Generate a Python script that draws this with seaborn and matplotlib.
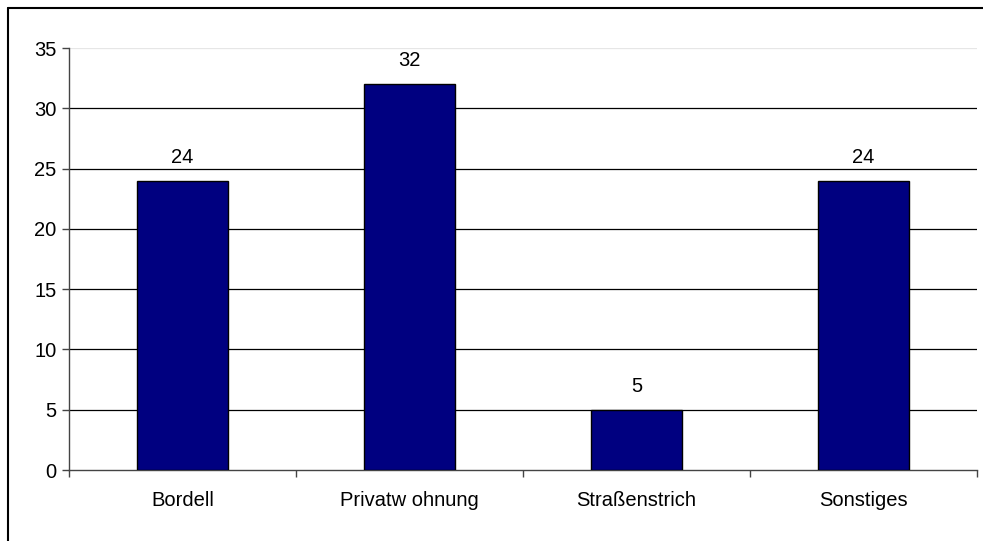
import matplotlib
matplotlib.use("Agg")
import matplotlib.pyplot as plt
import seaborn as sns
import pandas as pd
from matplotlib.lines import Line2D

# daten
kategorien = ['Bordell', 'Privatw ohnung', 'Straßenstrich', 'Sonstiges']
werte = [24, 32, 5, 24]
y_ticks = [0, 5, 10, 15, 20, 25, 30, 35]

df = pd.DataFrame({'ort': kategorien, 'anzahl': werte})

sns.set_style('white')
plt.rcParams['font.family'] = ['Liberation Sans', 'DejaVu Sans']
plt.rcParams['text.color'] = 'black'
plt.rcParams['xtick.color'] = 'black'
plt.rcParams['ytick.color'] = 'black'

fig = plt.figure(figsize=(9.83, 5.41), dpi=100)
ax = fig.add_axes([69 / 983, 1 - 470 / 541, (977 - 69) / 983, (470 - 48) / 541])

sns.barplot(data=df, x='ort', y='anzahl', color='#000080', saturation=1,
            width=0.4, edgecolor='black', linewidth=1, ax=ax, zorder=3)

ax.set_ylim(0, 35)
ax.set_xlim(-0.5, 3.5)
ax.set_yticks(y_ticks)
ax.set_xlabel('')
ax.set_ylabel('')

# gitternetz
for t in y_ticks[1:]:
    farbe = '#e6e6e6' if t == 35 else 'black'
    ax.axhline(t, color=farbe, linewidth=0.9, zorder=1)

for s in ['top', 'right']:
    ax.spines[s].set_visible(False)
for s in ['left', 'bottom']:
    ax.spines[s].set_color('#444444')
    ax.spines[s].set_linewidth(1)

fs = 14.5
ax.tick_params(axis='y', direction='out', length=5, width=1, color='#444444',
               labelcolor='black', labelsize=fs, pad=4, left=True)
ax.tick_params(axis='x', which='major', length=0, labelsize=fs, pad=15,
               labelcolor='black')
ax.set_xticks([-0.5, 0.5, 1.5, 2.5, 3.5], minor=True)
ax.tick_params(axis='x', which='minor', direction='out', length=5, width=1,
               color='#444444', bottom=True)

# datenbeschriftung
for i, v in enumerate(werte):
    ax.annotate(str(v), (i, v), xytext=(0, 10), textcoords='offset points',
                ha='center', va='bottom', fontsize=fs, color='black')

# rahmen
fig.add_artist(Line2D([8 / 983, 1.0], [1 - 8 / 541, 1 - 8 / 541],
                      transform=fig.transFigure, color='black', linewidth=1.5))
fig.add_artist(Line2D([8 / 983, 8 / 983], [0.0, 1 - 8 / 541],
                      transform=fig.transFigure, color='black', linewidth=1.5))

fig.savefig('out.png', dpi=100)
